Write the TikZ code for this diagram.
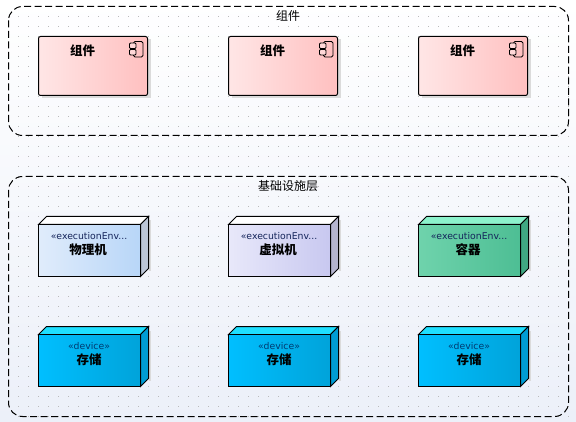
\documentclass[tikz,border=0pt]{standalone}
\usepackage{fontspec}
\setmainfont{DejaVu Sans}
\newfontfamily\cjk{Noto Sans CJK SC}
\definecolor{bgbot}{HTML}{ECF0F9}
\tikzset{
  x=1pt,y=-1pt,
  grouplabel/.style={font=\cjk\fontsize{12}{14}\selectfont,inner sep=0pt,text=black},
  groupbox/.style={draw=black,line width=1pt,dash pattern=on 7pt off 3.5pt,rounded corners=14pt},
  title/.style={font=\cjk\bfseries\fontsize{12.5}{14}\selectfont,inner sep=0pt,text=black},
  stereo/.style={font=\fontsize{9.3}{11}\selectfont,inner sep=0pt,text=#1},
  edge/.style={draw=black,line width=1pt,line join=miter},
}
\definecolor{cl}{HTML}{FFE6E6}\definecolor{cr}{HTML}{FFC0C0}\definecolor{ci}{HTML}{FFD8D8}
\newcommand{\compbox}[2]{%
  \fill[black!14] (#1+3,#2+3) rectangle (#1+112,#2+62);
  \draw[edge,line width=1pt,rounded corners=2pt,left color=cl,right color=cr] (#1,#2) rectangle (#1+109,#2+59);
}
\newcommand{\compicon}[2]{%
  \draw[line width=.8pt,rounded corners=1.5pt] (#1+95,#2+5) rectangle (#1+104.5,#2+20.5);
  \draw[line width=.8pt,rounded corners=1pt,fill=ci] (#1+91,#2+6.5) rectangle (#1+97.5,#2+12);
  \draw[line width=.8pt,rounded corners=1pt,fill=ci] (#1+91,#2+13) rectangle (#1+97.5,#2+18.5);
}
\newcommand{\nodebox}[5]{%
  \fill[black!14] (#1+110,#2-4) rectangle (#1+112,#2+46.5);
  \filldraw[edge,fill=#5] (#1,#2) -- (#1+8,#2-8) -- (#1+110,#2-8) -- (#1+102,#2) -- cycle;
  \filldraw[edge,fill=\sidecol] (#1+102,#2) -- (#1+110,#2-8) -- (#1+110,#2+44) -- (#1+102,#2+52) -- cycle;
  \draw[edge,left color=#3,right color=#4] (#1,#2) rectangle (#1+102,#2+52);
}
\begin{document}
\begin{tikzpicture}
\useasboundingbox (0,0) rectangle (576,422);
\shade[top color=white,bottom color=bgbot] (0,0) rectangle (576,422);
\foreach \i in {0,...,55} \foreach \j in {0,...,40}
  \fill[black!27] (18+10*\i,16+10*\j) rectangle +(1,1);
\draw[groupbox] (8.5,6.5) rectangle (568.5,135.5);
\draw[groupbox] (8.5,176.5) rectangle (568.5,416.5);
\node[grouplabel] (g1) at (288,16) {组件};
\node[grouplabel] (g2) at (288,186) {基础设施层};

\compbox{38.5}{36.5}\compicon{38.5}{36.5}
\compbox{228.5}{36.5}\compicon{228.5}{36.5}
\compbox{418.5}{36.5}\compicon{418.5}{36.5}
\node[title] (c1) at (82.5,51) {组件};
\node[title] (c2) at (272.5,51) {组件};
\node[title] (c3) at (462.5,51) {组件};

\definecolor{al}{HTML}{E0ECFB}\definecolor{ar}{HTML}{B8D6F8}\definecolor{s1}{HTML}{BCC6D6}
\def\sidecol{s1}
\nodebox{38.5}{224.5}{al}{ar}{white}
\definecolor{bl}{HTML}{E8E8FA}\definecolor{br}{HTML}{C8C8F0}\definecolor{s2}{HTML}{B4B4CE}
\def\sidecol{s2}
\nodebox{228.5}{224.5}{bl}{br}{white}
\definecolor{gf}{HTML}{6FD3AC}\definecolor{gt}{HTML}{4DBE94}\definecolor{gtop}{HTML}{8CF2CC}\definecolor{gs}{HTML}{40A782}
\def\sidecol{gs}
\nodebox{418.5}{224.5}{gf}{gt}{gtop}
\definecolor{df}{HTML}{00BFFF}\definecolor{dt}{HTML}{00A3DA}\definecolor{dtop}{HTML}{1FDFFF}\definecolor{ds}{HTML}{009CD4}
\def\sidecol{ds}
\nodebox{38.5}{334.5}{df}{dt}{dtop}
\nodebox{228.5}{334.5}{df}{dt}{dtop}
\nodebox{418.5}{334.5}{df}{dt}{dtop}

\definecolor{st1}{HTML}{14245A}\definecolor{st2}{HTML}{003A70}
\foreach \n/\x in {a/89,b/279,c/469}{
  \node[stereo=st1] (e\n) at (\x,236.5) {«executionEnv...};
  \node[stereo=st2] (d\n) at (\x,346.5) {«device»};
  \node[title] (s\n) at (\x,359.5) {存储};
}
\node[title] (p1) at (88,249.5) {物理机};
\node[title] (p2) at (278,249.5) {虚拟机};
\node[title] (p3) at (468,249.5) {容器};
\end{tikzpicture}
\end{document}
